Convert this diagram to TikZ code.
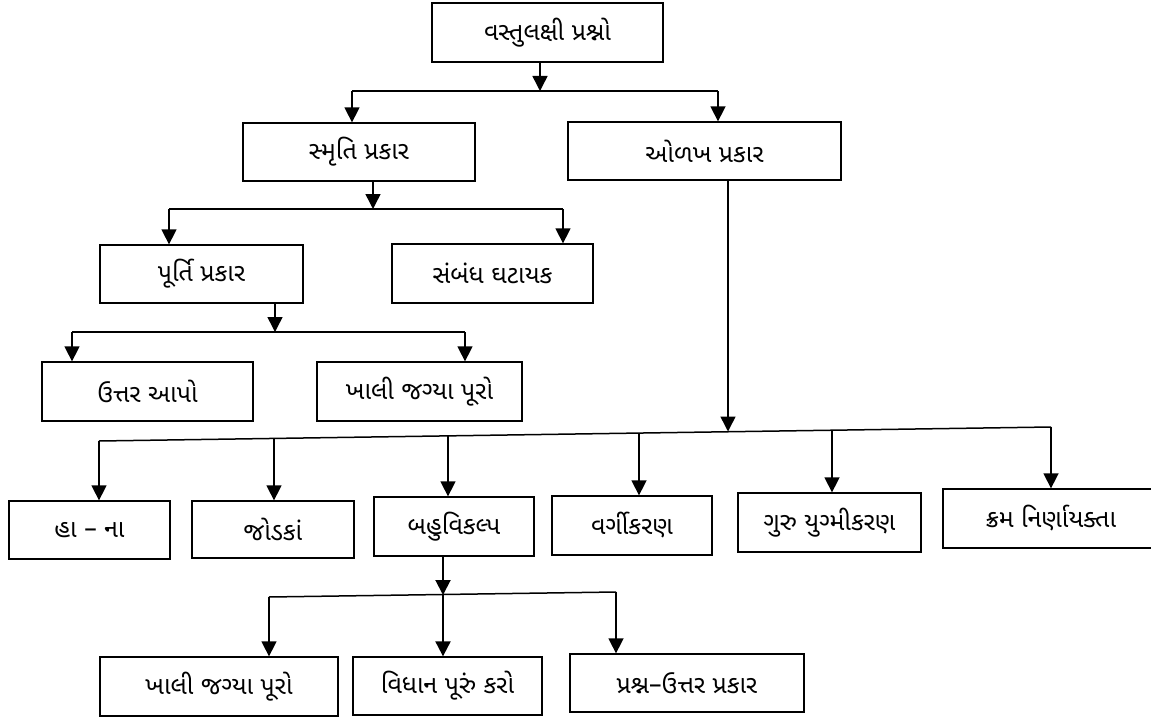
\documentclass[tikz,border=0pt]{standalone}
\usepackage{fontspec}
\usepackage{tikz}
\usetikzlibrary{arrows.meta}
\newfontfamily\gujfont[Script=Gujarati]{Noto Sans Gujarati UI}

\begin{document}
\begin{tikzpicture}[x=1pt,y=-1pt,
  box/.style={draw,line width=1.3pt,inner sep=0pt,font=\gujfont\fontsize{25}{28}\selectfont},
  arr/.style={-{Triangle[length=15pt,width=15pt]},line width=1.5pt},
  bus/.style={line width=1.5pt}]%<<<
\useasboundingbox (0,0) rectangle (1151,717);
\node[box,minimum width=231pt,minimum height=59pt] (root) at (547.5,32.5) {વસ્તુલક્ષી પ્રશ્નો};
\node[box,minimum width=232pt,minimum height=58pt] (smruti) at (359,152) {સ્મૃતિ પ્રકાર};
\node[box,minimum width=273pt,minimum height=58pt] (olakh) at (704.5,151) {ઓળખ પ્રકાર};
\node[box,minimum width=203pt,minimum height=58pt] (purti) at (201.5,274) {પૂર્તિ પ્રકાર};
\node[box,minimum width=201pt,minimum height=59pt] (sambandh) at (492.5,273.5) {સંબંધ ઘટાયક};
\node[box,minimum width=211pt,minimum height=59pt] (uttar) at (147.5,391.5) {ઉત્તર આપો};
\node[box,minimum width=205pt,minimum height=59pt] (khali) at (419.5,391.5) {ખાલી જગ્યા પૂરો};
\node[box,minimum width=161pt,minimum height=58pt] (hana) at (89.5,530) {હા – ના};
\node[box,minimum width=162pt,minimum height=57pt] (jodka) at (273,529.5) {જોડકાં};
\node[box,minimum width=160pt,minimum height=59pt] (bahu) at (454,526.5) {બહુવિકલ્પ};
\node[box,minimum width=160pt,minimum height=59pt] (varg) at (632,525.5) {વર્ગીકરણ};
\node[box,minimum width=183pt,minimum height=59pt] (guru) at (829.5,522.5) {ગુરુ યુગ્મીકરણ};
\node[box,minimum width=216pt,minimum height=59pt] (kram) at (1051,518.5) {ક્રમ નિર્ણાયક્તા};
\node[box,minimum width=238pt,minimum height=59pt] (khalib) at (219,686.5) {ખાલી જગ્યા પૂરો};
\node[box,minimum width=189pt,minimum height=58pt] (vidhan) at (447.5,686) {વિધાન પૂરું કરો};
\node[box,minimum width=234pt,minimum height=58pt] (prashna) at (687,683) {પ્રશ્ન–ઉત્તર પ્રકાર};

\coordinate (j1) at (540,91);
\coordinate (j1l) at (352,91);
\coordinate (j1r) at (718,91);
\draw[arr] (root.south -| j1) -- (j1);
\draw[bus] (j1l) -- (j1r);
\draw[arr] (j1l) -- (j1l |- smruti.north);
\draw[arr] (j1r) -- (j1r |- olakh.north);

\coordinate (j2) at (373,209);
\coordinate (j2l) at (169,209);
\coordinate (j2r) at (563,209);
\draw[arr] (smruti.south -| j2) -- (j2);
\draw[bus] (j2l) -- (j2r);
\draw[arr] (j2l) -- (j2l |- purti.north);
\draw[arr] (j2r) -- (j2r |- sambandh.north);

\coordinate (j3) at (275,332);
\coordinate (j3l) at (72,332);
\coordinate (j3r) at (465,332);
\draw[arr] (purti.south -| j3) -- (j3);
\draw[bus] (j3l) -- (j3r);
\draw[arr] (j3l) -- (j3l |- uttar.north);
\draw[arr] (j3r) -- (j3r |- khali.north);

\coordinate (j4) at (728,431.5);
\coordinate (j4l) at (99,441);
\coordinate (j4r) at (1051,427);
\draw[arr] (olakh.south -| j4) -- (j4);
\draw[bus] (j4l) -- (j4r);
\foreach \n/\x/\y in {hana/99/441,jodka/274/438.4,bahu/448/435.9,varg/639/433,guru/832/430.2,kram/1051/427}{
  \coordinate (d\n) at (\x,\y);
  \draw[arr] (d\n) -- (d\n |- \n.north);
}

\coordinate (j5) at (443,595);
\coordinate (j5l) at (269,597);
\coordinate (j5r) at (616,592);
\draw[arr,line width=2pt] (bahu.south -| j5) -- (j5);
\draw[bus] (j5l) -- (j5r);
\draw[arr] (j5l) -- (j5l |- khalib.north);
\draw[arr,line width=2pt] (j5) -- (j5 |- vidhan.north);
\draw[arr] (j5r) -- (j5r |- prashna.north);
\end{tikzpicture}
\end{document}
